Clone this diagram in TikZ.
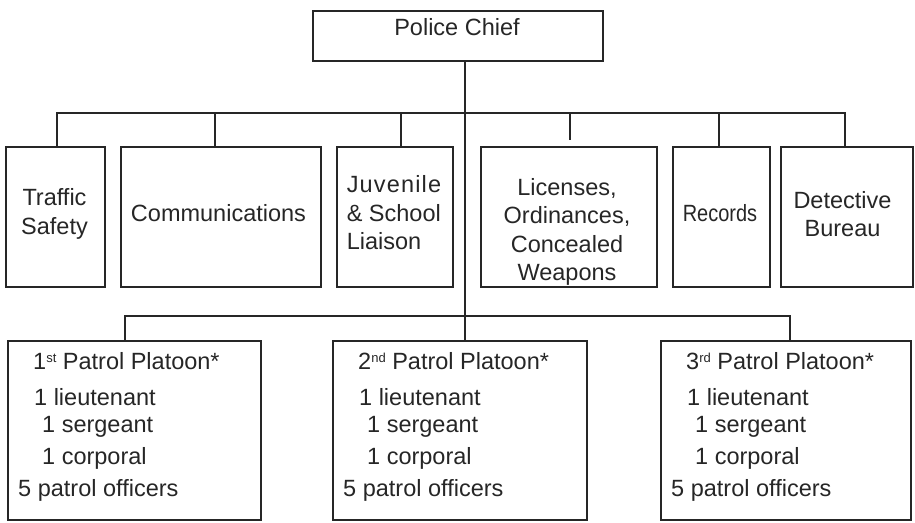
\documentclass[tikz,border=0pt]{standalone}
\usepackage{fontspec}
\setmainfont{Liberation Sans}
\usepackage{graphicx}
\definecolor{linecol}{HTML}{262626}
\definecolor{txtcol}{HTML}{262626}
\newcommand{\ordsup}[1]{{\fontsize{13}{13}\selectfont\raisebox{6.5pt}{#1}}}
\begin{document}
\begin{tikzpicture}[x=1pt,y=-1pt,
  box/.style={draw=linecol,line width=2.2pt,rectangle,inner sep=0pt,anchor=north west},
  lbl/.style={inner sep=0pt,font=\fontsize{23.5}{28.5}\selectfont,text=txtcol},
  conn/.style={draw=linecol,line width=2.2pt}]
\useasboundingbox (0,0) rectangle (915,522);
% boxes
\node[box,minimum width=290pt,minimum height=50pt] (chief) at (312,10) {};
\node[box,minimum width=99pt,minimum height=140pt] (ts) at (5,146) {};
\node[box,minimum width=200pt,minimum height=140pt] (com) at (120,146) {};
\node[box,minimum width=116pt,minimum height=140pt] (juv) at (336,146) {};
\node[box,minimum width=176pt,minimum height=140pt] (lic) at (480,146) {};
\node[box,minimum width=97pt,minimum height=140pt] (rec) at (672,146) {};
\node[box,minimum width=132pt,minimum height=140pt] (det) at (780,146) {};
\node[box,minimum width=253pt,minimum height=179pt] (p1) at (7,340) {};
\node[box,minimum width=254pt,minimum height=179pt] (p2) at (332,340) {};
\node[box,minimum width=250pt,minimum height=179pt] (p3) at (660,340) {};
% texts
\node[lbl] (chieft) at (457,27) {Police Chief};
\node[lbl,align=center] (tst) at (54.5,214) {Traffic\\Safety};
\node[lbl] (comt) at (218.5,213) {Communications};
\node[lbl,align=left] (juvt) at (394,213) {{\addfontfeature{LetterSpace=5}Juvenile}\\\& School\\Liaison};
\node[lbl,align=center] (lict) at (567,232) {Licenses,\\Ordinances,\\Concealed\\Weapons};
\node[lbl] (rect) at (720,213) {\scalebox{0.85}[1]{Records}};
\node[lbl,align=center] (dett) at (842.5,214) {Detective\\Bureau};
\foreach \i/\x/\ord in {1/7/st,2/332/nd,3/660/rd}{
  \node[lbl,anchor=west] (h\i) at (\x+26,361) {\i\ordsup{\ord} Patrol Platoon*};
  \node[lbl,anchor=west] (l\i) at (\x+27,397) {1 lieutenant};
  \node[lbl,anchor=west] (s\i) at (\x+35,427) {1 sergeant};
  \node[lbl,anchor=west] (c\i) at (\x+35,458) {1 corporal};
  \node[lbl,anchor=west] (o\i) at (\x+11,490) {5 patrol officers};
}
% connectors
\coordinate (tL) at (57,113);
\coordinate (t2) at (215,113);
\coordinate (t3) at (401,113);
\coordinate (t4) at (570,113);
\coordinate (t4e) at (570,140);
\coordinate (t5) at (719,113);
\coordinate (tR) at (845,113);
\coordinate (mid) at (465,113);
\coordinate (bL) at (125,316);
\coordinate (bR) at (790,316);
\draw[conn] (tL |- ts.north) -- (tL) -- (tR) -- (tR |- det.north);
\draw[conn] (t2) -- (t2 |- com.north);
\draw[conn] (t3) -- (t3 |- juv.north);
\draw[conn] (t4) -- (t4e);
\draw[conn] (t5) -- (t5 |- rec.north);
\draw[conn] (mid |- chief.south) -- (mid |- p2.north);
\draw[conn] (bL |- p1.north) -- (bL) -- (bR) -- (bR |- p3.north);
\end{tikzpicture}
\end{document}
